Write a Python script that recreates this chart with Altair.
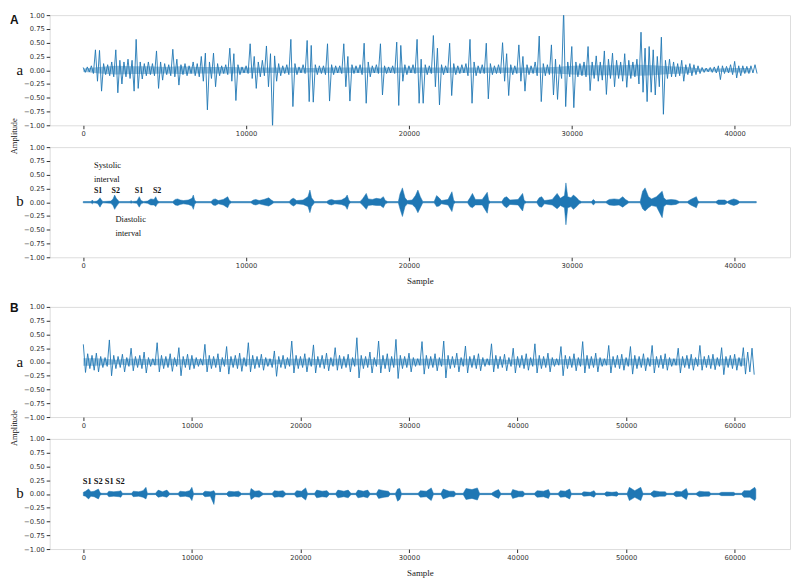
import altair as alt
import pandas as pd

BLUE = "#1f77b4"
SERIF = "Liberation Serif"
SANS = "DejaVu Sans"

# ---------------- Panel A-a : raw signal, envelope per bin of 250 samples ----------------
AA_BIN = 250
aa_hi = [.05, .06, .08, .37, .36, .12, .10, .15, .37, .18,
         .15, .20, .18, .56, .15, .12, .15, .12, .35, .15,
         .12, .10, .38, .20, .10, .12, .08, .15, .12, .25,
         .31, .15, .31, .12, .08, .10, .40, .30, .10, .06,
         .08, .48, .25, .15, .18, .44, .30, .26, .12, .08,
         .10, .56, .12, .06, .10, .54, .45, .10, .08, .08,
         .48, .10, .08, .08, .48, .25, .10, .08, .10, .49,
         .15, .08, .10, .48, .08, .06, .08, .51, .45, .10,
         .08, .10, .56, .20, .10, .08, .63, .40, .10, .08,
         .49, .12, .08, .10, .12, .56, .15, .08, .10, .49,
         .12, .08, .10, .50, .30, .10, .08, .46, .25, .10,
         .08, .15, .62, .12, .10, .46, .20, .10, 1.10, .15,
         .43, .15, .12, .15, .43, .15, .26, .15, .35, .20,
         .31, .18, .15, .30, .18, .15, .20, .69, .40, .43,
         .37, .25, .60, .18, .20, .15, .12, .18, .10, .12,
         .10, .08, .05, .04, .05, .06, .08, .08, .07, .10,
         .16, .08, .08, .07, .08, .10]
aa_lo = [-.04, -.03, -.06, -.20, -.38, -.08, -.10, -.12, -.41, -.25,
         -.12, -.15, -.38, -.33, -.16, -.10, -.08, -.10, -.33, -.18,
         -.08, -.10, -.12, -.27, -.08, -.10, -.06, -.10, -.12, -.20,
         -.72, -.15, -.30, -.10, -.06, -.08, -.20, -.55, -.08, -.05,
         -.06, -.15, -.33, -.12, -.10, -.30, -1.05, -.20, -.10, -.06,
         -.08, -.66, -.08, -.05, -.06, -.57, -.58, -.08, -.06, -.08,
         -.56, -.08, -.05, -.06, -.30, -.56, -.06, -.05, -.08, -.60,
         -.12, -.05, -.06, -.45, -.06, -.05, -.06, -.64, -.20, -.08,
         -.05, -.06, -.60, -.60, -.08, -.06, -.30, -.63, -.08, -.05,
         -.46, -.08, -.06, -.05, -.10, -.60, -.10, -.06, -.06, -.52,
         -.08, -.06, -.06, -.20, -.46, -.08, -.06, -.20, -.38, -.08,
         -.06, -.10, -.57, -.10, -.08, -.45, -.53, -.15, -.66, -.12,
         -.68, -.12, -.10, -.12, -.37, -.15, -.20, -.18, -.44, -.15,
         -.30, -.15, -.20, -.31, -.15, -.12, -.25, -.40, -.57, -.40,
         -.45, -.30, -.80, -.15, -.12, -.12, -.10, -.20, -.08, -.10,
         -.08, -.06, -.04, -.03, -.04, -.05, -.17, -.06, -.05, -.08,
         -.14, -.10, -.06, -.06, -.05, -.06]
# dense core of the raw trace (half-thickness around zero), one value per 1000 samples
CORE_BIN = 1000
aa_core = [.03, .06, .08, .07, .07, .06, .07, .06, .06, .06,
           .05, .05, .05, .05, .04, .05, .05, .05, .05, .05,
           .05, .05, .05, .05, .05, .05, .05, .05, .05, .06,
           .08, .09, .09, .09, .10, .09, .07, .06, .025, .03,
           .04, .04]

# ---------------- Panel A-b : filtered signal, envelope key points ----------------
ab_x = [0,
        480, 560, 640,
        850, 950, 1030, 1100, 1200,
        1700, 1830, 1930, 2030, 2200,
        2880, 2940, 3000,
        3300, 3440, 3550, 3700,
        3950, 4150, 4350, 4450, 4550, 4650,
        5500, 5650, 5800, 5950, 6150, 6450, 6680, 6760, 6850, 6950,
        7850, 7980, 8110, 8300, 8600, 8870, 8980, 9100,
        10300, 10450, 10600, 10800, 11100, 11390, 11550, 11700,
        12650, 12800, 12920, 13100, 13500, 13800, 13920, 14020, 14200,
        14950, 15100, 15250, 15450, 15850, 16100, 16210, 16320, 16420,
        17000, 17150, 17380, 17500, 17750, 18000, 18250, 18430, 18550, 18700,
        19350, 19450, 19600, 19760, 19900, 20200, 20400, 20550, 20700, 20850,
        21550, 21700, 21850, 22000, 22400, 22640, 22750, 22850,
        23600, 23750, 23900, 24080, 24500, 24810, 24900, 25000,
        25700, 25850, 26000, 26200, 26700, 26980, 27080, 27200,
        27850, 28000, 28150, 28320, 28800, 29100, 29300, 29550, 29640, 29750, 29950, 30100, 30300, 30450, 30600,
        31200, 31330, 31450,
        32100, 32300, 32600, 32900, 33130, 33300, 33500,
        34200, 34350, 34500, 34710, 34900, 35200, 35550, 35650, 35800, 36100, 36400, 36600,
        37100, 37300, 37650, 37750, 37850,
        38850, 39000, 39400, 39550, 39750, 39950, 40150, 40300,
        41330]
ab_hi = [.012,
         .012, .04, .012,
         .02, .05, .08, .05, .012,
         .02, .06, .13, .07, .012,
         .012, .03, .012,
         .02, .10, .03, .012,
         .02, .06, .05, .10, .03, .012,
         .012, .05, .06, .04, .03, .04, .07, .13, .03, .012,
         .012, .05, .06, .03, .05, .10, .03, .012,
         .012, .04, .05, .03, .05, .08, .04, .012,
         .012, .06, .07, .03, .04, .10, .22, .08, .012,
         .012, .04, .05, .03, .04, .08, .13, .03, .012,
         .012, .06, .16, .06, .05, .07, .06, .10, .03, .012,
         .012, .15, .26, .08, .03, .04, .12, .22, .10, .012,
         .012, .12, .08, .03, .05, .19, .03, .012,
         .012, .08, .16, .05, .05, .18, .03, .012,
         .012, .08, .10, .04, .05, .16, .03, .012,
         .012, .08, .10, .03, .05, .16, .07, .12, .35, .10, .08, .13, .08, .03, .012,
         .012, .05, .012,
         .012, .05, .06, .05, .10, .05, .012,
         .012, .20, .26, .10, .06, .10, .20, .08, .04, .05, .04, .012,
         .012, .05, .10, .02, .012,
         .012, .04, .04, .012, .04, .06, .04, .012,
         .012]
ab_lo = [-.012,
         -.012, -.03, -.012,
         -.02, -.05, -.09, -.05, -.012,
         -.02, -.06, -.13, -.08, -.012,
         -.012, -.02, -.012,
         -.02, -.09, -.03, -.012,
         -.02, -.05, -.05, -.08, -.03, -.012,
         -.012, -.05, -.06, -.04, -.03, -.04, -.07, -.13, -.03, -.012,
         -.012, -.05, -.06, -.03, -.05, -.10, -.03, -.012,
         -.012, -.04, -.05, -.03, -.05, -.07, -.04, -.012,
         -.012, -.05, -.07, -.03, -.04, -.08, -.19, -.08, -.012,
         -.012, -.04, -.05, -.03, -.04, -.07, -.13, -.03, -.012,
         -.012, -.05, -.13, -.06, -.05, -.06, -.06, -.10, -.03, -.012,
         -.012, -.12, -.26, -.08, -.03, -.04, -.10, -.19, -.10, -.012,
         -.012, -.08, -.07, -.03, -.05, -.17, -.03, -.012,
         -.012, -.08, -.10, -.05, -.05, -.20, -.03, -.012,
         -.012, -.07, -.10, -.04, -.05, -.16, -.03, -.012,
         -.012, -.08, -.09, -.03, -.05, -.12, -.06, -.10, -.41, -.10, -.08, -.13, -.08, -.03, -.012,
         -.012, -.05, -.012,
         -.012, -.05, -.06, -.05, -.09, -.05, -.012,
         -.012, -.12, -.16, -.10, -.06, -.08, -.28, -.08, -.04, -.05, -.04, -.012,
         -.012, -.05, -.10, -.02, -.012,
         -.012, -.04, -.04, -.012, -.04, -.06, -.04, -.012,
         -.012]

# ---------------- Panel B-a : raw signal, envelope per bin of 400 samples ----------------
BA_BIN = 400
ba_hi = [0.32, 0.15, 0.12, 0.16, 0.10, 0.08,
         0.40, 0.12, 0.10, 0.14, 0.08,
         0.25, 0.10, 0.12, 0.18, 0.08, 0.06,
         0.35, 0.12, 0.10, 0.15, 0.08,
         0.26, 0.10, 0.14, 0.12, 0.08, 0.06,
         0.32, 0.12, 0.10, 0.15, 0.08,
         0.28, 0.10, 0.12, 0.16, 0.08,
         0.35, 0.12, 0.10, 0.14, 0.08, 0.06,
         0.20, 0.10, 0.12, 0.08,
         0.38, 0.12, 0.10, 0.15, 0.08,
         0.31, 0.10, 0.12, 0.16, 0.08,
         0.26, 0.12, 0.10, 0.14, 0.08,
         0.44, 0.12, 0.10, 0.18, 0.08,
         0.38, 0.12, 0.15, 0.10,
         0.41, 0.12, 0.10, 0.16, 0.08, 0.06,
         0.37, 0.12, 0.10, 0.15, 0.08,
         0.38, 0.12, 0.10, 0.16, 0.08,
         0.29, 0.10, 0.12, 0.15, 0.08, 0.06,
         0.33, 0.12, 0.10, 0.14, 0.08,
         0.25, 0.10, 0.12, 0.15, 0.08,
         0.33, 0.12, 0.10, 0.16, 0.08, 0.06,
         0.28, 0.12, 0.10, 0.15, 0.08,
         0.37, 0.12, 0.10, 0.16, 0.08, 0.06,
         0.30, 0.10, 0.12, 0.14, 0.08,
         0.28, 0.12, 0.10, 0.15, 0.08,
         0.30, 0.10, 0.12, 0.15, 0.08, 0.06,
         0.25, 0.10, 0.12, 0.14, 0.08,
         0.30, 0.10, 0.12, 0.14, 0.08,
         0.26, 0.10, 0.12, 0.14, 0.08,
         0.26, 0.18, 0.25]
ba_lo = [-0.19, -0.12, -0.15, -0.18, -0.10, -0.08,
         -0.25, -0.12, -0.10, -0.18, -0.08,
         -0.16, -0.10, -0.12, -0.20, -0.08, -0.06,
         -0.18, -0.12, -0.10, -0.17, -0.08,
         -0.25, -0.10, -0.14, -0.12, -0.08, -0.06,
         -0.18, -0.12, -0.10, -0.18, -0.08,
         -0.22, -0.10, -0.12, -0.17, -0.08,
         -0.18, -0.12, -0.10, -0.15, -0.08, -0.10,
         -0.26, -0.10, -0.12, -0.08,
         -0.20, -0.12, -0.10, -0.18, -0.08,
         -0.20, -0.10, -0.12, -0.16, -0.08,
         -0.15, -0.12, -0.10, -0.18, -0.08,
         -0.29, -0.12, -0.10, -0.20, -0.08,
         -0.20, -0.12, -0.18, -0.10,
         -0.30, -0.12, -0.10, -0.18, -0.08, -0.06,
         -0.22, -0.12, -0.10, -0.16, -0.08,
         -0.29, -0.12, -0.10, -0.18, -0.08,
         -0.20, -0.10, -0.12, -0.16, -0.08, -0.06,
         -0.18, -0.12, -0.10, -0.16, -0.08,
         -0.20, -0.10, -0.12, -0.15, -0.08,
         -0.20, -0.12, -0.10, -0.18, -0.08, -0.06,
         -0.25, -0.12, -0.10, -0.16, -0.08,
         -0.20, -0.12, -0.10, -0.18, -0.08, -0.06,
         -0.20, -0.10, -0.12, -0.15, -0.08,
         -0.22, -0.12, -0.10, -0.16, -0.08,
         -0.20, -0.10, -0.12, -0.15, -0.08, -0.06,
         -0.20, -0.10, -0.12, -0.15, -0.08,
         -0.15, -0.10, -0.12, -0.14, -0.08,
         -0.23, -0.10, -0.12, -0.15, -0.08,
         -0.22, -0.18, -0.23]
ba_core = [.07, .07, .06, .04, .06, .06, .05, .06, .06, .05,
           .06, .05, .06, .05, .06, .06, .05, .06, .04, .06,
           .06, .06, .05, .06, .06, .06, .06, .05, .06, .06,
           .06, .06, .06, .06, .05, .06, .06, .05, .06, .04,
           .06, .06, .06, .06, .05, .06, .06, .06, .06, .05,
           .06, .06, .06, .05, .06, .06, .06, .05, .06, .06,
           .06, .07]

# ---------------- Panel B-b : filtered signal, envelope key points ----------------
bb_x = [0, 200, 480, 700, 1000, 1390, 1550, 1700,
        2200, 2350, 2800, 3300, 3450, 3600,
        4450, 4600, 5100, 5500, 5770, 5900,
        6650, 6900, 7300, 7700, 7950,
        8750, 8900, 9400, 9800, 10000, 10150,
        11000, 11200, 11700, 12030, 12150,
        13200, 13400, 13900, 14300, 14550,
        15350, 15450, 15800, 16200, 16550,
        17400, 17600, 18000, 18400, 18650,
        19450, 19650, 20100, 20480, 20650,
        21300, 21500, 22000, 22450, 22650,
        23250, 23450, 24000, 24400, 24650,
        25100, 25300, 25800, 26200, 26400,
        27000, 27200, 27700, 28100, 28250,
        28750, 28950, 29150, 29300,
        30850, 31050, 31600, 32050, 32250,
        32950, 33150, 33700, 34150, 34300,
        35000, 35250, 35800, 36300, 36500,
        37600, 37900, 38250, 38450,
        39400, 39550, 40100, 40500, 40650,
        41550, 41800, 42400, 42850, 43000,
        43750, 43950, 44400, 44800, 44950,
        45900, 46100, 46700, 47050, 47200,
        48000, 48200, 48700, 49150, 49300,
        50100, 50300, 50800, 51350, 51550,
        52250, 52550, 53100, 53600, 53750,
        54350, 54600, 55100, 55550, 55700,
        56450, 56750, 57200, 57650, 57800,
        58550, 58800, 59400, 59900, 60050,
        60650, 60850, 61400, 61850, 61950]
bb_hi = [.03, .05, .09, .04, .05, .09, .02, .012,
         .012, .05, .04, .05, .06, .012,
         .012, .05, .04, .06, .12, .012,
         .012, .07, .04, .07, .012,
         .012, .05, .04, .06, .12, .012,
         .012, .05, .04, .06, .012,
         .012, .05, .04, .05, .012,
         .012, .10, .05, .06, .012,
         .012, .06, .05, .06, .012,
         .012, .06, .05, .11, .012,
         .012, .07, .05, .06, .012,
         .012, .07, .05, .07, .012,
         .012, .07, .05, .07, .012,
         .012, .08, .06, .05, .012,
         .012, .09, .10, .012,
         .012, .06, .05, .11, .012,
         .012, .09, .05, .05, .012,
         .012, .10, .08, .11, .012,
         .012, .05, .08, .012,
         .012, .08, .05, .05, .012,
         .012, .06, .05, .08, .012,
         .012, .06, .05, .09, .012,
         .012, .04, .03, .06, .012,
         .012, .04, .03, .04, .012,
         .012, .12, .06, .12, .012,
         .012, .06, .04, .04, .012,
         .012, .05, .04, .10, .012,
         .012, .05, .04, .04, .012,
         .012, .03, .03, .03, .012,
         .012, .06, .06, .12, .08]
bb_lo = [-.03, -.04, -.09, -.04, -.05, -.09, -.02, -.012,
         -.012, -.05, -.04, -.05, -.06, -.012,
         -.012, -.05, -.04, -.06, -.09, -.012,
         -.012, -.06, -.04, -.06, -.012,
         -.012, -.05, -.04, -.06, -.12, -.012,
         -.012, -.05, -.04, -.19, -.012,
         -.012, -.05, -.04, -.05, -.012,
         -.012, -.10, -.05, -.06, -.012,
         -.012, -.06, -.05, -.06, -.012,
         -.012, -.06, -.05, -.11, -.012,
         -.012, -.07, -.05, -.06, -.012,
         -.012, -.07, -.05, -.07, -.012,
         -.012, -.07, -.05, -.07, -.012,
         -.012, -.08, -.06, -.05, -.012,
         -.012, -.13, -.10, -.012,
         -.012, -.06, -.05, -.12, -.012,
         -.012, -.09, -.05, -.05, -.012,
         -.012, -.10, -.08, -.11, -.012,
         -.012, -.05, -.08, -.012,
         -.012, -.08, -.05, -.05, -.012,
         -.012, -.06, -.05, -.08, -.012,
         -.012, -.06, -.05, -.09, -.012,
         -.012, -.04, -.03, -.06, -.012,
         -.012, -.04, -.03, -.04, -.012,
         -.012, -.12, -.06, -.12, -.012,
         -.012, -.06, -.04, -.04, -.012,
         -.012, -.05, -.04, -.10, -.012,
         -.012, -.05, -.04, -.04, -.012,
         -.012, -.03, -.03, -.03, -.012,
         -.012, -.06, -.06, -.12, -.08]

A_DOMAIN = [-2060, 43400]
B_DOMAIN = [-3100, 65100]
A_TICKS = [0, 10000, 20000, 30000, 40000]
B_TICKS = [0, 10000, 20000, 30000, 40000, 50000, 60000]
Y_TICKS = [-1.0, -0.75, -0.5, -0.25, 0.0, 0.25, 0.5, 0.75, 1.0]

W, H = 746, 111
TICK_FONT = 6.8


def zigzag(hi, lo, step):
    xs, ys = [], []
    for i, (h, l) in enumerate(zip(hi, lo)):
        xs += [i * step, i * step + step / 2]
        ys += [h, l]
    return pd.DataFrame({"sample": xs, "amp": ys})


def core_table(core, step):
    return pd.DataFrame({"sample": [i * step for i in range(len(core))],
                         "hi": core, "lo": [-c for c in core]})


def x_enc(domain, ticks, title):
    kw = dict(values=ticks, format="d", grid=False, domain=False, tickSize=3.5,
              tickColor="#333", labelFont=SANS, labelFontSize=TICK_FONT,
              labelColor="#333", labelPadding=2)
    if title:
        kw.update(title=title, titleFont=SERIF, titleFontSize=9, titleFontWeight="normal",
                  titleColor="#222", titlePadding=7)
    else:
        kw.update(title=None)
    return alt.X("sample:Q", scale=alt.Scale(domain=domain, nice=False, zero=False),
                 axis=alt.Axis(**kw))


def y_axis():
    return alt.Axis(values=Y_TICKS, format=".2f", grid=False, domain=False, tickSize=3.5,
                    tickColor="#333", labelFont=SANS, labelFontSize=TICK_FONT,
                    labelColor="#333", labelPadding=2, title=None)


Y_SCALE = alt.Scale(domain=[-1, 1], nice=False, zero=False)


def txt(text, x, y, size, font=SERIF, weight="normal", angle=0, align="left"):
    return alt.Chart(pd.DataFrame({"t": [text]})).mark_text(
        font=font, fontSize=size, fontWeight=weight, angle=angle, align=align,
        baseline="middle", color="#111"
    ).encode(x=alt.value(x), y=alt.value(y), text="t:N")


def raw_panel(hi, lo, step, core, domain, ticks):
    band = alt.Chart(core_table(core, CORE_BIN)).mark_area(
        color=BLUE, opacity=0.45, clip=True
    ).encode(x=x_enc(domain, ticks, None),
             y=alt.Y("hi:Q", scale=Y_SCALE, axis=y_axis()), y2="lo:Q")
    line = alt.Chart(zigzag(hi, lo, step)).mark_line(
        color=BLUE, strokeWidth=0.9, clip=True
    ).encode(x=x_enc(domain, ticks, None),
             y=alt.Y("amp:Q", scale=Y_SCALE, axis=y_axis()),
             order="sample:Q")
    return [band, line]


def env_panel(xs, hi, lo, domain, ticks):
    df = pd.DataFrame({"sample": xs, "hi": hi, "lo": lo})
    return alt.Chart(df).mark_area(
        color=BLUE, stroke=BLUE, strokeWidth=0.5, clip=True
    ).encode(x=x_enc(domain, ticks, "Sample"),
             y=alt.Y("hi:Q", scale=Y_SCALE, axis=y_axis()),
             y2="lo:Q")


aa = alt.layer(
    *raw_panel(aa_hi, aa_lo, AA_BIN, aa_core, A_DOMAIN, A_TICKS),
    txt("A", -40, 5, 12, font="Liberation Sans", weight="bold"),
    txt("a", -30, H / 2, 15, align="center"),
    txt("Amplitude", -36, H + 11, 8.5, angle=270, align="center"),
).properties(width=W, height=H)

ab = alt.layer(
    env_panel(ab_x, ab_hi, ab_lo, A_DOMAIN, A_TICKS),
    txt("b", -30, H / 2 - 1, 15, align="center"),
    txt("Systolic", 44.6, 18, 8.5),
    txt("interval", 44.6, 32.5, 8.5),
    txt("S1", 44.6, 44.6, 8, weight="bold"),
    txt("S2", 62.4, 44.6, 8, weight="bold"),
    txt("S1", 85.8, 44.6, 8, weight="bold"),
    txt("S2", 104, 44.6, 8, weight="bold"),
    txt("Diastolic", 66.3, 72, 8.5),
    txt("interval", 66.3, 86.8, 8.5),
).properties(width=W, height=H)

ba = alt.layer(
    *raw_panel(ba_hi, ba_lo, BA_BIN, ba_core, B_DOMAIN, B_TICKS),
    txt("B", -40, 1, 12, font="Liberation Sans", weight="bold"),
    txt("a", -30, H / 2, 15, align="center"),
    txt("Amplitude", -36, H + 11, 8.5, angle=270, align="center"),
).properties(width=W, height=H)

bb = alt.layer(
    env_panel(bb_x, bb_hi, bb_lo, B_DOMAIN, B_TICKS),
    txt("b", -30, H / 2 - 1, 15, align="center"),
    txt("S1 S2 S1 S2", 33.4, 42.5, 8.5, weight="bold"),
).properties(width=W, height=H)

spacer = alt.Chart(pd.DataFrame({"v": [0]})).mark_point(opacity=0).encode(
    x=alt.X("v:Q", axis=None), y=alt.Y("v:Q", axis=None)
).properties(width=W, height=6, view=alt.ViewBackground(stroke="transparent"))

chart = alt.vconcat(aa, ab, spacer, ba, bb, spacing=22, bounds="flush").properties(
    padding={"left": 1, "right": 1, "top": 1, "bottom": 1}
).configure_view(stroke="#7f7f7f", strokeWidth=1).configure(background="white")

chart.save("out.html", embed_options={"renderer": "svg", "actions": False})
